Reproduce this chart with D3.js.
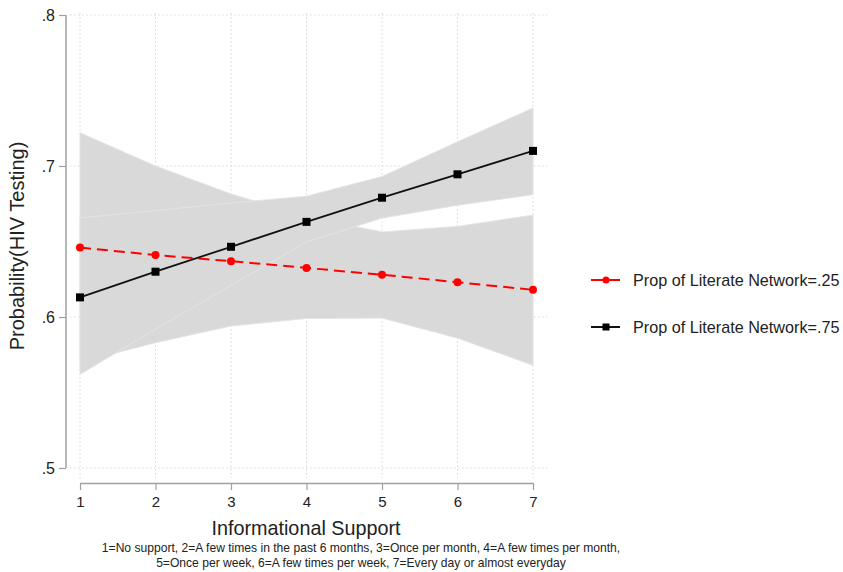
<!DOCTYPE html>
<html>
<head>
<meta charset="utf-8">
<script src="https://cdn.jsdelivr.net/npm/d3@7"></script>
<style>
  html, body { margin: 0; padding: 0; background: #fff; }
  svg { display: block; font-family: "Liberation Sans", Arial, sans-serif; }
</style>
</head>
<body>
<svg id="chart" width="843" height="572"></svg>
<script>
// Informational support levels (x axis)
const support = [1, 2, 3, 4, 5, 6, 7];

// Predicted probability of HIV testing, proportion of literate network = .25
const lowFit   = [0.646, 0.641, 0.637, 0.6325, 0.628, 0.623, 0.618];
const lowUpper = [0.722, 0.700, 0.6815, 0.6665, 0.6563, 0.660, 0.6675];
const lowLower = [0.570, 0.583, 0.594, 0.599, 0.5993, 0.586, 0.568];

// Predicted probability of HIV testing, proportion of literate network = .75
const highFit   = [0.613, 0.630, 0.6465, 0.663, 0.679, 0.6945, 0.710];
const highUpper = [0.6656, 0.6705, 0.6755, 0.680, 0.693, 0.716, 0.7384];
const highLower = [0.562, 0.592, 0.621, 0.6497, 0.6655, 0.674, 0.681];

const yTicks = [0.5, 0.6, 0.7, 0.8];
const yTickLabels = [".5", ".6", ".7", ".8"];
const seriesNames = ["Prop of Literate Network=.25", "Prop of Literate Network=.75"];
const xTitle = "Informational Support";
const yTitle = "Probability(HIV Testing)";
const noteLines = [
  "1=No support, 2=A few times in the past 6 months, 3=Once per month, 4=A few times per month,",
  "5=Once per week, 6=A few times per week, 7=Every day or almost everyday"
];

const svg = d3.select("#chart");
const x = d3.scaleLinear().domain([1, 7]).range([80, 533]);
const y = d3.scaleLinear().domain([0.5, 0.8]).range([468, 15]);

const axisColor = "#a0a0a0";
const gridColor = "#d8d8d8";
const textColor = "#222";

// Dotted grid
const grid = svg.append("g");
grid.selectAll("line.h").data(yTicks).join("line")
  .attr("x1", 70).attr("x2", 547)
  .attr("y1", d => y(d)).attr("y2", d => y(d))
  .attr("stroke", gridColor).attr("stroke-width", 1)
  .attr("stroke-dasharray", "1.5,2.5");
grid.selectAll("line.v").data(support).join("line")
  .attr("x1", d => x(d)).attr("x2", d => x(d))
  .attr("y1", 13).attr("y2", 478)
  .attr("stroke", gridColor).attr("stroke-width", 1)
  .attr("stroke-dasharray", "1.5,2.5");

// Confidence bands
const area = (lo, hi) => d3.area()
  .x((d, i) => x(support[i]))
  .y0((d, i) => y(lo[i]))
  .y1((d, i) => y(hi[i]))(support);

svg.append("path").attr("d", area(lowLower, lowUpper))
  .attr("fill", "#d9d9d9").attr("stroke", "#e4e4e4").attr("stroke-width", 1);
svg.append("path").attr("d", area(highLower, highUpper))
  .attr("fill", "#d9d9d9").attr("stroke", "#e4e4e4").attr("stroke-width", 1);

// Fitted lines
const line = vals => d3.line()
  .x((d, i) => x(support[i]))
  .y((d, i) => y(vals[i]))(support);

svg.append("path").attr("d", line(lowFit))
  .attr("fill", "none").attr("stroke", "#ff0000").attr("stroke-width", 2)
  .attr("stroke-dasharray", "11,6");
svg.append("path").attr("d", line(highFit))
  .attr("fill", "none").attr("stroke", "#111").attr("stroke-width", 1.8);

svg.append("g").selectAll("circle").data(lowFit).join("circle")
  .attr("cx", (d, i) => x(support[i])).attr("cy", d => y(d))
  .attr("r", 4).attr("fill", "#ff0000");
svg.append("g").selectAll("rect").data(highFit).join("rect")
  .attr("x", (d, i) => x(support[i]) - 4).attr("y", d => y(d) - 4)
  .attr("width", 8).attr("height", 8).attr("fill", "#000");

// Y axis
const yAxis = svg.append("g").attr("transform", "translate(66,0)")
  .call(d3.axisLeft(y).tickValues(yTicks).tickFormat((d, i) => yTickLabels[i])
    .tickSize(7).tickPadding(4).tickSizeOuter(0));
yAxis.select(".domain").attr("stroke", axisColor).attr("stroke-width", 1.5)
  .attr("d", `M0,${y(0.8)}V${y(0.5)}`);
yAxis.selectAll(".tick line").attr("stroke", axisColor).attr("stroke-width", 1.2);
yAxis.selectAll(".tick text").attr("fill", textColor).attr("font-size", 16)
  .attr("font-family", "Liberation Sans, Arial, sans-serif");

// X axis
const xAxis = svg.append("g").attr("transform", "translate(0,483)")
  .call(d3.axisBottom(x).tickValues(support).tickFormat(d3.format("d"))
    .tickSize(7).tickPadding(6).tickSizeOuter(0));
xAxis.select(".domain").attr("stroke", axisColor).attr("stroke-width", 1.5);
xAxis.selectAll(".tick line").attr("stroke", axisColor).attr("stroke-width", 1.2);
xAxis.selectAll(".tick text").attr("fill", textColor).attr("font-size", 15)
  .attr("font-family", "Liberation Sans, Arial, sans-serif");

// Axis titles
svg.append("text").attr("x", 306).attr("y", 535).attr("text-anchor", "middle")
  .attr("font-size", 19.8).attr("fill", textColor).text(xTitle);
svg.append("text").attr("transform", "translate(24,246) rotate(-90)")
  .attr("text-anchor", "middle").attr("font-size", 20).attr("fill", textColor).text(yTitle);

// Note
svg.append("g").selectAll("text").data(noteLines).join("text")
  .attr("x", 361).attr("y", (d, i) => 552 + i * 15).attr("text-anchor", "middle")
  .attr("font-size", 12.1).attr("fill", textColor).text(d => d);

// Legend
const legend = svg.append("g");
const legY = [280, 327];
legend.append("line").attr("x1", 591).attr("x2", 620).attr("y1", legY[0]).attr("y2", legY[0])
  .attr("stroke", "#ff0000").attr("stroke-width", 2);
legend.append("circle").attr("cx", 606).attr("cy", legY[0]).attr("r", 3.5).attr("fill", "#ff0000");
legend.append("line").attr("x1", 591).attr("x2", 620).attr("y1", legY[1]).attr("y2", legY[1])
  .attr("stroke", "#111").attr("stroke-width", 2);
legend.append("rect").attr("x", 602.5).attr("y", legY[1] - 3.5).attr("width", 7).attr("height", 7)
  .attr("fill", "#000");
legend.selectAll("text").data(seriesNames).join("text")
  .attr("x", 633).attr("y", (d, i) => legY[i] + 6)
  .attr("font-size", 16.2).attr("fill", textColor).text(d => d);
</script>
</body>
</html>
